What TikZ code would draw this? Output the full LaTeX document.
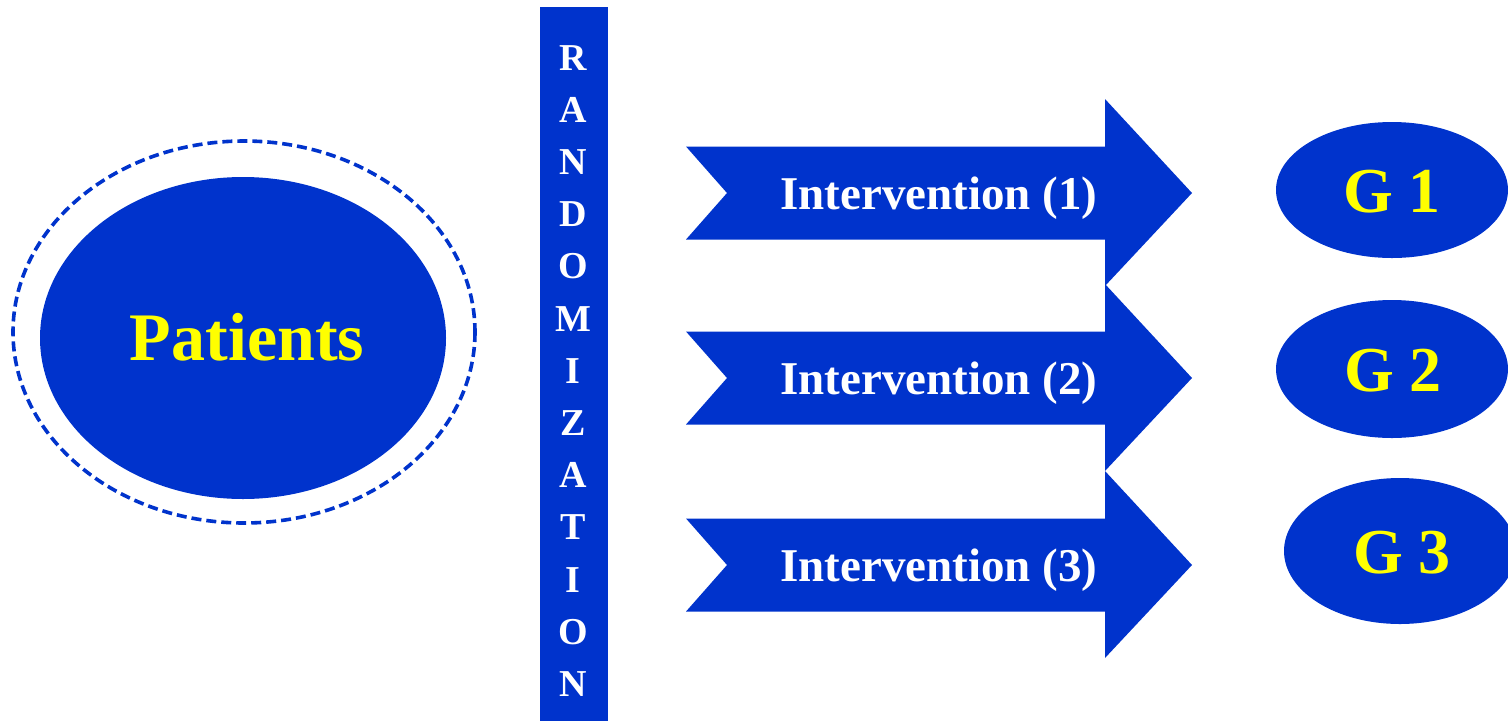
\documentclass[tikz,border=0pt]{standalone}
\usepackage{fontspec}
\setmainfont{Liberation Serif}
\definecolor{royal}{RGB}{0,51,204}
\definecolor{lemon}{RGB}{255,255,0}
\begin{document}
\begin{tikzpicture}[x=1pt,y=-1pt,
  lettertext/.style={text=white,font=\bfseries\fontsize{38}{40}\selectfont,anchor=base,inner sep=0pt},
  armtext/.style={text=white,font=\bfseries\fontsize{47}{50}\selectfont,anchor=base,inner sep=0pt},
  grouptext/.style={text=lemon,font=\bfseries\fontsize{64}{66}\selectfont,anchor=base,inner sep=0pt}]
\useasboundingbox (0,0) rectangle (1508,721);

% patient pool
\draw[royal,line width=3.6pt,dash pattern=on 10pt off 5pt] (244,332) ellipse [x radius=231,y radius=191];
\fill[royal] (243,338) ellipse [x radius=203,y radius=161];
\node[text=lemon,font=\bfseries\fontsize{68}{70}\selectfont,anchor=base,inner sep=0pt] (patients) at (247,360) {Patients};

% randomization bar
\fill[royal] (540,7) rectangle (608,721);
\foreach \ch [count=\i from 0] in {R,A,N,D,O,M,I,Z,A,T,I,O,N}
  \node[lettertext] (rand\i) at (573,{57+52.2*\i+13}) {\ch};

% intervention arrows
\foreach \yc/\k in {193/1,378/2,565/3}{
  \fill[royal] (686,\yc-46.5) -- (1105,\yc-46.5) -- (1105,\yc-94) -- (1192,\yc)
    -- (1105,\yc+93) -- (1105,\yc+46.5) -- (686,\yc+46.5) -- (727,\yc) -- cycle;
  \node[armtext] (arm\k) at (939,\yc+16) {Intervention (\k)};
}

% groups
\fill[royal] (1392,190) ellipse [x radius=116,y radius=68];
\fill[royal] (1392,369) ellipse [x radius=116,y radius=69];
\fill[royal] (1400,551) ellipse [x radius=116,y radius=73];
\node[grouptext] (g1) at (1392,212) {G 1};
\node[grouptext] (g2) at (1393,391) {G 2};
\node[grouptext] (g3) at (1402,573) {G 3};
\end{tikzpicture}
\end{document}
